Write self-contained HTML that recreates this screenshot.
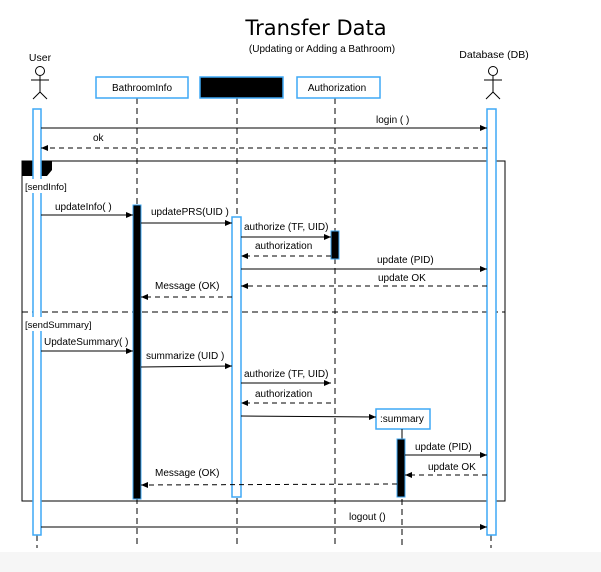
<!DOCTYPE html>
<html><head><meta charset="utf-8"><style>
html,body{margin:0;padding:0;background:#fff;width:601px;height:572px;overflow:hidden}
svg text{font-family:"Liberation Sans",sans-serif;font-size:10px;fill:#000}
</style></head><body>
<svg width="601" height="572" viewBox="0 0 601 572" xmlns="http://www.w3.org/2000/svg">
<defs>
<marker id="a" markerWidth="8" markerHeight="8" refX="7" refY="3" orient="auto" markerUnits="userSpaceOnUse"><path d="M0,0 L7,3 L0,6 z" fill="#000"/></marker>
</defs>
<rect x="0" y="552" width="601" height="20" fill="#f6f6f6"/>
<text x="316" y="35" text-anchor="middle" style="font-size:21px;font-family:'DejaVu Sans',sans-serif;font-weight:500">Transfer Data</text>
<text x="322" y="52" text-anchor="middle" style="font-size:10px;font-weight:500">(Updating or Adding a Bathroom)</text>
<!-- actors -->
<text x="40" y="61" text-anchor="middle" style="font-size:10.5px">User</text>
<g stroke="#000" fill="none" stroke-width="1">
<circle cx="40" cy="71" r="4.5"/><line x1="40" y1="76" x2="40" y2="92"/><line x1="31" y1="80" x2="49" y2="80"/><line x1="40" y1="92" x2="33" y2="99"/><line x1="40" y1="92" x2="47" y2="99"/>
<circle cx="493" cy="71" r="4.5"/><line x1="493" y1="76" x2="493" y2="92"/><line x1="484" y1="80" x2="502" y2="80"/><line x1="493" y1="92" x2="486" y2="99"/><line x1="493" y1="92" x2="500" y2="99"/>
</g>
<text x="494" y="58" text-anchor="middle" style="font-size:10.5px">Database (DB)</text>
<!-- lifelines -->
<g stroke="#000" stroke-dasharray="6,4" stroke-width="1">
<line x1="137" y1="98" x2="137" y2="548"/>
<line x1="237" y1="98" x2="237" y2="548"/>
<line x1="335" y1="98" x2="335" y2="548"/>
<line x1="402" y1="429" x2="402" y2="548"/>
<line x1="37" y1="535" x2="37" y2="548"/>
<line x1="491" y1="535" x2="491" y2="548"/>
</g>
<!-- header boxes -->
<rect x="96" y="77" width="92" height="21" fill="#fff" stroke="#3fa9f5" stroke-width="1.5"/>
<text x="142" y="91" text-anchor="middle">BathroomInfo</text>
<rect x="200" y="77" width="83" height="21" fill="#000" stroke="#3fa9f5" stroke-width="1.5"/>
<rect x="297" y="77" width="83" height="21" fill="#fff" stroke="#3fa9f5" stroke-width="1.5"/>
<text x="337" y="91" text-anchor="middle">Authorization</text>
<!-- frame -->
<rect x="22" y="161" width="483" height="340" fill="none" stroke="#000" stroke-width="1"/>
<path d="M22,161 H52 V170 L47,176 H22 z" fill="#000"/>
<line x1="22" y1="312" x2="505" y2="312" stroke="#000" stroke-dasharray="6,4"/>
<!-- activations -->
<rect x="33" y="109" width="8" height="426" fill="#fff" stroke="#3fa9f5" stroke-width="1.5"/>
<rect x="487" y="109" width="9" height="426" fill="#fff" stroke="#3fa9f5" stroke-width="1.5"/>
<rect x="24" y="179" width="49" height="14" fill="#fff"/>
<text x="25" y="190" style="font-size:9.5px">[sendInfo]</text>
<rect x="24" y="317" width="76" height="14" fill="#fff"/>
<text x="25" y="328" style="font-size:9.5px">[sendSummary]</text>
<rect x="133" y="205" width="8" height="294" fill="#000" stroke="#3fa9f5" stroke-width="1"/>
<rect x="232" y="217" width="9" height="280" fill="#fff" stroke="#3fa9f5" stroke-width="1.5"/>
<rect x="331" y="231" width="8" height="28" fill="#000" stroke="#3fa9f5" stroke-width="1"/>
<rect x="376" y="409" width="54" height="20" fill="#fff" stroke="#3fa9f5" stroke-width="1.5"/>
<text x="380" y="422">:summary</text>
<line x1="402" y1="429" x2="402" y2="439" stroke="#000"/>
<rect x="397" y="439" width="8" height="58" fill="#000" stroke="#3fa9f5" stroke-width="1"/>
<!-- messages -->
<g stroke="#000" stroke-width="1" fill="none" marker-end="url(#a)">
<line x1="41" y1="128" x2="487" y2="128"/>
<line x1="487" y1="148" x2="41" y2="148" stroke-dasharray="5,4"/>
<line x1="41" y1="215" x2="133" y2="215"/>
<line x1="141" y1="223" x2="232" y2="223"/>
<line x1="241" y1="237" x2="331" y2="237"/>
<line x1="331" y1="256" x2="241" y2="256" stroke-dasharray="5,4"/>
<line x1="241" y1="269" x2="487" y2="269"/>
<line x1="487" y1="286" x2="241" y2="286" stroke-dasharray="5,4"/>
<line x1="232" y1="297" x2="141" y2="297" stroke-dasharray="5,4"/>
<line x1="41" y1="351" x2="133" y2="351"/>
<line x1="141" y1="367" x2="232" y2="366"/>
<line x1="241" y1="383" x2="331" y2="383"/>
<line x1="331" y1="403" x2="241" y2="403" stroke-dasharray="5,4"/>
<line x1="241" y1="416" x2="376" y2="417"/>
<line x1="405" y1="455" x2="487" y2="455"/>
<line x1="487" y1="475" x2="405" y2="475" stroke-dasharray="5,4"/>
<line x1="397" y1="484" x2="141" y2="485" stroke-dasharray="5,4"/>
<line x1="41" y1="527" x2="487" y2="527"/>
</g>
<text x="376" y="123">login ( )</text>
<text x="93" y="141">ok</text>
<text x="55" y="210">updateInfo( )</text>
<text x="151" y="215">updatePRS(UID )</text>
<text x="244" y="230">authorize (TF, UID)</text>
<text x="255" y="249">authorization</text>
<text x="377" y="263">update (PID)</text>
<text x="378" y="281">update OK</text>
<text x="155" y="289">Message (OK)</text>
<text x="44" y="345">UpdateSummary( )</text>
<text x="146" y="359">summarize (UID )</text>
<text x="244" y="377">authorize (TF, UID)</text>
<text x="255" y="397">authorization</text>
<text x="415" y="450">update (PID)</text>
<text x="428" y="470">update OK</text>
<text x="155" y="476">Message (OK)</text>
<text x="349" y="520">logout ()</text>
</svg>
</body></html>
